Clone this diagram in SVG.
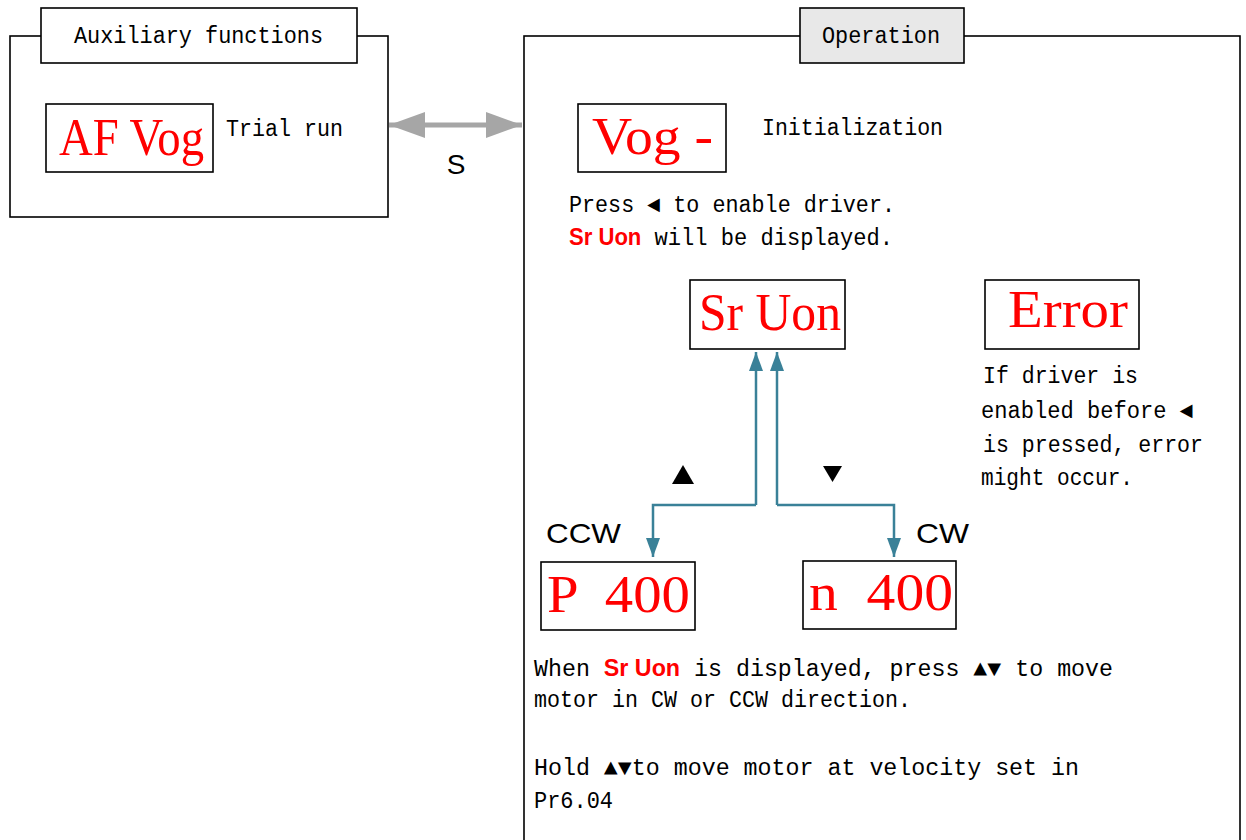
<svg xmlns="http://www.w3.org/2000/svg" width="1246" height="840" viewBox="0 0 1246 840">
<defs>
<style>
text{white-space:pre}
.box{fill:#fff;stroke:#000;stroke-width:1.6}
.t{font-family:"Liberation Mono","DejaVu Sans Mono",monospace;font-size:23px;fill:#000}
.hl{font-family:"Liberation Sans",Arial,sans-serif;font-weight:bold;fill:#ff0000}
.disp{font-family:"Liberation Serif","Times New Roman",serif;font-size:52px;fill:#ff0000}
.lbl{font-family:"Liberation Sans",Arial,sans-serif;font-size:28px;fill:#000}
.teal{fill:none;stroke:#3a8198;stroke-width:2.5}
</style>
<marker id="ta" markerUnits="userSpaceOnUse" markerWidth="20" markerHeight="14" refX="19" refY="7" orient="auto">
<path d="M0,0 L19,7 L0,14 Z" fill="#3a8198"/>
</marker>
<marker id="ga" markerUnits="userSpaceOnUse" markerWidth="37" markerHeight="26" refX="36" refY="13" orient="auto-start-reverse">
<path d="M0,0 L36,13 L0,26 Z" fill="#a6a6a6"/>
</marker>
</defs>
<rect width="1246" height="840" fill="#fff"/>

<g id="aux">
<rect class="box" x="10" y="36" width="378" height="181"/>
<rect class="box" x="41" y="8" width="316" height="55"/>
<text class="t" x="74" y="43" textLength="249" lengthAdjust="spacingAndGlyphs">Auxiliary functions</text>
</g>

<g id="af-vog">
<rect class="box" x="46" y="104" width="167" height="68"/>
<text class="disp" x="59" y="155" textLength="145" lengthAdjust="spacingAndGlyphs">AF Vog</text>
<text class="t" x="226" y="136" textLength="117" lengthAdjust="spacingAndGlyphs">Trial run</text>
</g>

<g id="operation">
<rect class="box" x="524" y="36" width="716" height="820"/>
<rect x="800" y="8" width="164" height="55" fill="#e8e8e8" stroke="#000" stroke-width="1.6"/>
<text class="t" x="822" y="43" textLength="118" lengthAdjust="spacingAndGlyphs">Operation</text>
</g>

<g id="vog">
<rect class="box" x="578" y="104" width="148" height="68"/>
<text class="disp" x="592" y="154" textLength="121" lengthAdjust="spacingAndGlyphs">Vog -</text>
<text class="t" x="762" y="135" textLength="181" lengthAdjust="spacingAndGlyphs">Initialization</text>
<text class="t" x="569" y="212" textLength="326" lengthAdjust="spacingAndGlyphs">Press ◄ to enable driver.</text>
<text class="t" x="569" y="245" textLength="324" lengthAdjust="spacingAndGlyphs"><tspan class="hl">Sr Uon</tspan> will be displayed.</text>
</g>

<g id="sr-uon">
<rect class="box" x="690" y="280" width="155" height="69"/>
<text class="disp" x="699" y="330" textLength="142" lengthAdjust="spacingAndGlyphs">Sr Uon</text>
</g>

<g id="error">
<rect class="box" x="985" y="280" width="154" height="69"/>
<text class="disp" x="1008" y="327" textLength="120" lengthAdjust="spacingAndGlyphs">Error</text>
<text class="t" x="983" y="383" textLength="155" lengthAdjust="spacingAndGlyphs">If driver is</text>
<text class="t" x="981" y="418" textLength="212" lengthAdjust="spacingAndGlyphs">enabled before ◄</text>
<text class="t" x="983" y="452" textLength="220" lengthAdjust="spacingAndGlyphs">is pressed, error</text>
<text class="t" x="981" y="485" textLength="152" lengthAdjust="spacingAndGlyphs">might occur.</text>
</g>

<g id="p400">
<rect class="box" x="541" y="562" width="154" height="68"/>
<text class="disp" x="547" y="612" textLength="143" lengthAdjust="spacingAndGlyphs">P  400</text>
</g>

<g id="n400">
<rect class="box" x="803" y="561" width="153" height="68"/>
<text class="disp" x="809" y="610" textLength="144" lengthAdjust="spacingAndGlyphs">n  400</text>
</g>

<g id="connectors">
<line x1="389" y1="125" x2="522" y2="125" stroke="#a6a6a6" stroke-width="5" marker-start="url(#ga)" marker-end="url(#ga)"/>
<text class="lbl" x="456" y="174" text-anchor="middle">S</text>
<polyline class="teal" points="756,505 756,352" marker-end="url(#ta)"/>
<polyline class="teal" points="756,505 653,505 653,557" marker-end="url(#ta)"/>
<polyline class="teal" points="777,505 777,352" marker-end="url(#ta)"/>
<polyline class="teal" points="777,505 894,505 894,557" marker-end="url(#ta)"/>
<polygon points="683,465 694,484 672,484" fill="#000"/>
<polygon points="823,466 842,466 832.5,482" fill="#000"/>
<text class="lbl" x="546" y="543" textLength="75" lengthAdjust="spacingAndGlyphs">CCW</text>
<text class="lbl" x="916" y="543" textLength="53" lengthAdjust="spacingAndGlyphs">CW</text>
</g>

<g id="notes">
<text class="t" x="534" y="676" textLength="579" lengthAdjust="spacingAndGlyphs">When <tspan class="hl">Sr Uon</tspan> is displayed, press ▲▼ to move</text>
<text class="t" x="534" y="707" textLength="377" lengthAdjust="spacingAndGlyphs">motor in CW or CCW direction.</text>
<text class="t" x="534" y="775" textLength="545" lengthAdjust="spacingAndGlyphs">Hold ▲▼to move motor at velocity set in</text>
<text class="t" x="534" y="808" textLength="79" lengthAdjust="spacingAndGlyphs">Pr6.04</text>
</g>
</svg>
